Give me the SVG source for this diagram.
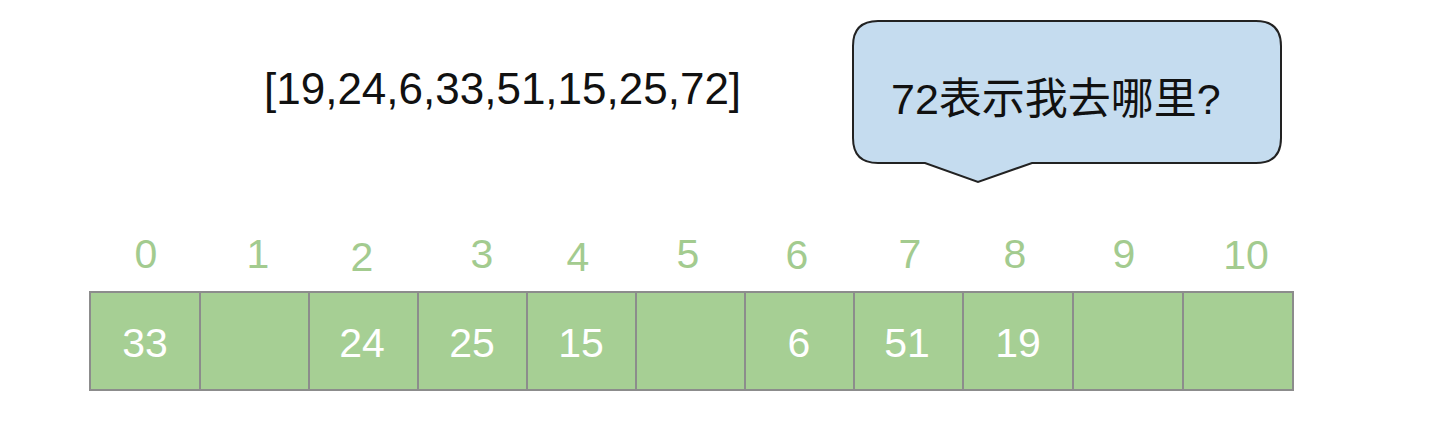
<svg xmlns="http://www.w3.org/2000/svg" width="1434" height="432" viewBox="0 0 1434 432">
<style>
.cell{fill:#a6cf94;stroke:#8c8c8c;stroke-width:2}
.idx{font-family:"Liberation Sans",Arial,sans-serif;font-size:41px;fill:#a3cb8f;text-anchor:middle}
.val{font-family:"Liberation Sans",Arial,sans-serif;font-size:41px;fill:#ffffff;text-anchor:middle}
.title{font-family:"Liberation Sans",Arial,sans-serif;font-size:44px;fill:#111111}
.call{font-family:"Liberation Sans","Noto Sans CJK SC",sans-serif;font-size:43px;fill:#111111}
</style>
<rect width="1434" height="432" fill="#ffffff"/>
<g id="title"><text class="title" x="264" y="104">[19,24,6,33,51,15,25,72]</text></g>
<g id="callout">
<path d="M878,21 H1256 Q1281,21 1281,46 V138 Q1281,163 1256,163 H1032 L978,182 L925,163 H878 Q853,163 853,138 V46 Q853,21 878,21 Z" fill="#c5dcef" stroke="#222222" stroke-width="2"/>
<text class="call" x="891" y="114">72表示我去哪里?</text>
</g>
<g id="indices">
<text class="idx" x="146" y="268">0</text>
<text class="idx" x="258" y="268">1</text>
<text class="idx" x="362" y="271">2</text>
<text class="idx" x="482" y="268">3</text>
<text class="idx" x="578" y="271">4</text>
<text class="idx" x="688" y="268">5</text>
<text class="idx" x="797" y="269">6</text>
<text class="idx" x="910" y="268">7</text>
<text class="idx" x="1015" y="268">8</text>
<text class="idx" x="1124" y="268">9</text>
<text class="idx" x="1246" y="269">10</text>
</g>
<g id="cells">
<g id="cell0"><rect class="cell" x="90" y="292" width="110" height="98"/><text class="val" x="145" y="357">33</text></g>
<g id="cell1"><rect class="cell" x="200" y="292" width="109" height="98"/></g>
<g id="cell2"><rect class="cell" x="309" y="292" width="109" height="98"/><text class="val" x="362" y="357">24</text></g>
<g id="cell3"><rect class="cell" x="418" y="292" width="109" height="98"/><text class="val" x="472" y="357">25</text></g>
<g id="cell4"><rect class="cell" x="527" y="292" width="109" height="98"/><text class="val" x="581" y="357">15</text></g>
<g id="cell5"><rect class="cell" x="636" y="292" width="109" height="98"/></g>
<g id="cell6"><rect class="cell" x="745" y="292" width="109" height="98"/><text class="val" x="799" y="357">6</text></g>
<g id="cell7"><rect class="cell" x="854" y="292" width="109" height="98"/><text class="val" x="907" y="357">51</text></g>
<g id="cell8"><rect class="cell" x="963" y="292" width="110" height="98"/><text class="val" x="1018" y="357">19</text></g>
<g id="cell9"><rect class="cell" x="1073" y="292" width="110" height="98"/></g>
<g id="cell10"><rect class="cell" x="1183" y="292" width="110" height="98"/></g>
</g>
<g id="connectors"/>
</svg>
